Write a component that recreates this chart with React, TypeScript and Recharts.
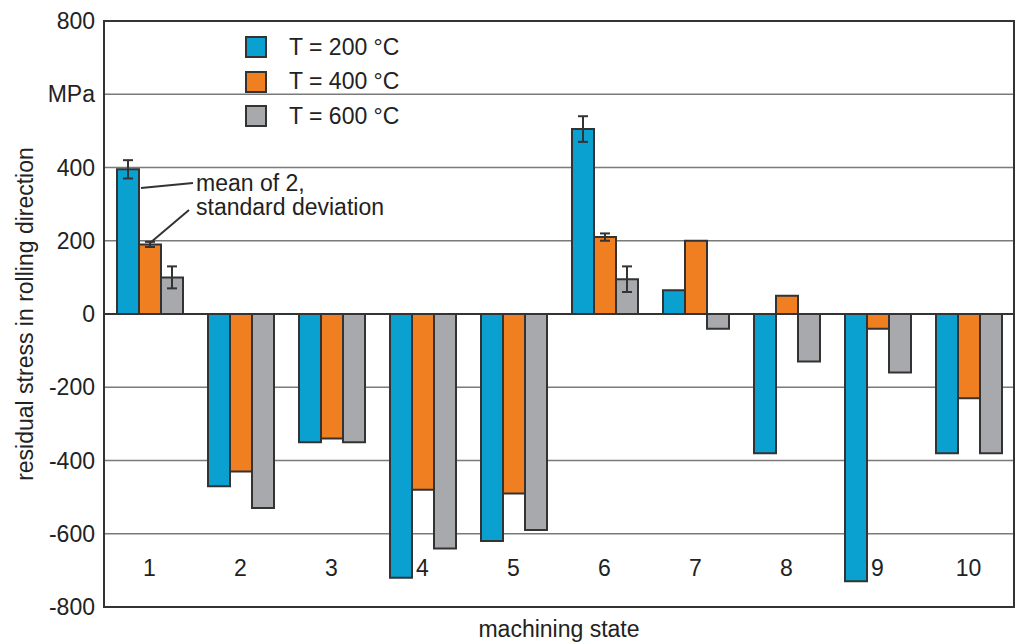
import { Bar, BarChart, CartesianGrid, ErrorBar, Legend, ReferenceArea, ReferenceLine, XAxis, YAxis } from "recharts";

const STATES = ["1", "2", "3", "4", "5", "6", "7", "8", "9", "10"];
const T200 = [395, -470, -350, -720, -620, 505, 65, -380, -730, -380];
const T400 = [190, -430, -340, -480, -490, 210, 200, 50, -40, -230];
const T600 = [100, -530, -350, -640, -590, 95, -40, -130, -160, -380];
const ERR200 = [25, null, null, null, null, 35, null, null, null, null];
const ERR400 = [7, null, null, null, null, 10, null, null, null, null];
const ERR600 = [30, null, null, null, null, 35, null, null, null, null];
const Y_TICKS = [-800, -600, -400, -200, 0, 200, 400, 600, 800];

const SERIES = [
  { key: "t200", err: "e200", name: "T = 200 °C", color: "#0aa1d1" },
  { key: "t400", err: "e400", name: "T = 400 °C", color: "#f07f22" },
  { key: "t600", err: "e600", name: "T = 600 °C", color: "#a7a9ac" },
];

const data = STATES.map((s, i) => ({
  state: s,
  t200: T200[i],
  t400: T400[i],
  t600: T600[i],
  e200: ERR200[i],
  e400: ERR400[i],
  e600: ERR600[i],
}));

const FONT = "'Liberation Sans', Arial, sans-serif";
const INK = "#222";
const LINE = "#333";

function StateTick({ x, y, payload }: any) {
  return (
    <text x={x} y={y - 39} dy="0.35em" textAnchor="middle" fontSize={23} fill={INK} fontFamily={FONT}>
      {payload.value}
    </text>
  );
}

function LegendBox() {
  return (
    <div style={{ fontFamily: FONT, fontSize: 23, color: INK }}>
      {SERIES.map((s) => (
        <div key={s.key} style={{ display: "flex", alignItems: "center", height: 34.5 }}>
          <span
            style={{
              display: "inline-block",
              width: 18,
              height: 18,
              background: s.color,
              border: `2px solid ${LINE}`,
              marginRight: 22,
            }}
          />
          {s.name}
        </div>
      ))}
    </div>
  );
}

export default function App() {
  return (
    <div style={{ position: "fixed", left: 0, top: 0, width: 1016, height: 644, background: "#fff" }}>
      <BarChart
        width={1016}
        height={644}
        data={data}
        margin={{ top: 21, right: 2, bottom: 0, left: 0 }}
        barGap={0}
        barSize={22}
        style={{ fontFamily: FONT }}
      >
        <CartesianGrid vertical={false} stroke="#7a7a7a" strokeWidth={1.5} />
        <XAxis
          dataKey="state"
          height={37}
          tick={<StateTick />}
          tickLine={false}
          tickSize={0}
          tickMargin={0}
          axisLine={{ stroke: LINE, strokeWidth: 2 }}
          label={{ value: "machining state", position: "insideBottom", offset: 7, fontSize: 23, fill: INK }}
        />
        <YAxis
          domain={[-800, 800]}
          ticks={Y_TICKS}
          interval={0}
          width={104}
          tickLine={false}
          tickSize={6}
          tickMargin={3}
          tick={{ fontSize: 23, fill: INK }}
          tickFormatter={(v: number) => (v === 600 ? "MPa" : String(v))}
          axisLine={{ stroke: LINE, strokeWidth: 2 }}
          label={{
            value: "residual stress in rolling direction",
            angle: -90,
            position: "insideLeft",
            offset: 25,
            fontSize: 23,
            fill: INK,
            style: { textAnchor: "middle" },
          }}
        />
        <ReferenceArea y1={-800} y2={800} fill="none" fillOpacity={0} stroke={LINE} strokeWidth={2} />
        <ReferenceLine y={0} stroke={LINE} strokeWidth={2} />
        <Legend
          verticalAlign="middle"
          align="center"
          layout="vertical"
          content={<LegendBox />}
          wrapperStyle={{ left: 245, top: 30, width: 200, height: 104 }}
        />
        {SERIES.map((s) => (
          <Bar key={s.key} dataKey={s.key} name={s.name} fill={s.color} stroke={LINE} strokeWidth={2} isAnimationActive={false}>
            <ErrorBar dataKey={s.err} width={5} stroke={LINE} strokeWidth={2} direction="y" />
          </Bar>
        ))}
      </BarChart>
      <svg width={1016} height={644} style={{ position: "absolute", left: 0, top: 0, pointerEvents: "none" }}>
        <line x1={141} y1={188} x2={193} y2={183} stroke={LINE} strokeWidth={2} />
        <line x1={150} y1={243} x2={189} y2={210} stroke={LINE} strokeWidth={2} />
        <text x={196} y={191} fontSize={23} fill={INK} fontFamily={FONT}>mean of 2,</text>
        <text x={196} y={215} fontSize={23} fill={INK} fontFamily={FONT}>standard deviation</text>
      </svg>
    </div>
  );
}
